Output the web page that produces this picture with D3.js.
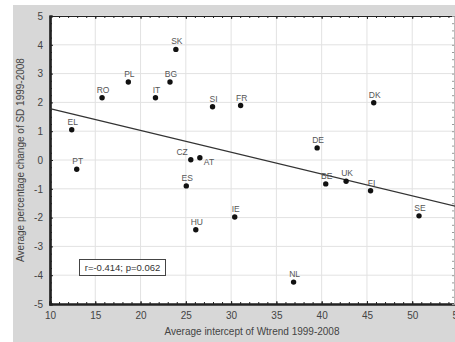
<!DOCTYPE html>
<html>
<head>
    <meta charset="utf-8">
    <title>Wtrend intercept vs SD change</title>
    <script src="https://cdn.jsdelivr.net/npm/d3@7"></script>
    <style>
        body { margin: 0; background: #fff; }
        svg text { font-family: "Liberation Sans", Arial, sans-serif; }
    </style>
</head>
<body>
    <div id="chart"></div>

    <script type="text/javascript">
        // country codes and their values
        var countries = ["SK", "PL", "BG", "RO", "IT", "SI", "EL", "CZ", "AT", "PT", "FR", "DK", "DE", "ES", "HU", "BE", "UK", "FI", "SE", "IE", "NL"];
        var intercepts = [23.9, 18.65, 23.25, 15.75, 21.65, 27.95, 12.4, 25.55, 26.55, 12.95, 31.05, 45.75, 39.5, 25.05, 26.1, 40.45, 42.7, 45.4, 50.75, 30.4, 36.9];
        var sdChange = [3.84, 2.71, 2.71, 2.16, 2.16, 1.85, 1.05, 0.01, 0.08, -0.32, 1.89, 1.99, 0.42, -0.9, -2.42, -0.83, -0.74, -1.07, -1.94, -1.98, -4.24];

        // fitted line end points
        var fitX = [10, 55];
        var fitY = [1.78, -1.62];

        var xTicks = [10, 15, 20, 25, 30, 35, 40, 45, 50, 55];
        var yTicks = [-5, -4, -3, -2, -1, 0, 1, 2, 3, 4, 5];
        var statText = "r=-0.414; p=0.062";
        var xTitle = "Average intercept of Wtrend 1999-2008";
        var yTitle = "Average percentage change of SD 1999-2008";

        var W = 455, H = 342;
        var svg = d3.select("#chart").append("svg")
            .attr("width", W).attr("height", H);

        // grey outer panel
        svg.append("rect")
            .attr("x", 13).attr("y", 5)
            .attr("width", W - 13).attr("height", H - 5)
            .attr("fill", "#d7d7d7");

        var x = d3.scaleLinear().domain([10, 55]).range([50, 457.5]);
        var y = d3.scaleLinear().domain([-5, 5]).range([304, 16]);

        svg.append("rect")
            .attr("x", x(10)).attr("y", y(5))
            .attr("width", x(55) - x(10)).attr("height", y(-5) - y(5))
            .attr("fill", "#fff");

        // grid
        var grid = svg.append("g");
        grid.selectAll("line.gx").data(xTicks).enter().append("line")
            .attr("class", "gx")
            .attr("x1", x).attr("x2", x)
            .attr("y1", y(5)).attr("y2", y(-5))
            .attr("stroke", "#e2e2e2").attr("stroke-width", 1);
        grid.selectAll("line.gy").data(yTicks).enter().append("line")
            .attr("class", "gy")
            .attr("y1", y).attr("y2", y)
            .attr("x1", x(10)).attr("x2", x(55))
            .attr("stroke", "#e2e2e2").attr("stroke-width", 1);

        // axes, ticks pointing into the plot
        var fmt = function(d) { return String(d); };
        var xMinor = d3.range(10, 55.01, 1);
        var yMinor = d3.range(-5, 5.01, 0.25);

        var axBottom = svg.append("g").attr("transform", "translate(0," + y(-5) + ")");
        axBottom.append("g").call(d3.axisBottom(x).tickValues(xMinor).tickSize(-2).tickFormat(""));
        axBottom.append("g").call(d3.axisBottom(x).tickValues(xTicks).tickSize(-3).tickPadding(8).tickFormat(fmt));

        var axTop = svg.append("g").attr("transform", "translate(0," + y(5) + ")");
        axTop.append("g").call(d3.axisTop(x).tickValues(xMinor).tickSize(-2).tickFormat(""));
        axTop.append("g").call(d3.axisTop(x).tickValues(xTicks).tickSize(-3).tickFormat(""));

        var axLeft = svg.append("g").attr("transform", "translate(" + x(10) + ",0)");
        axLeft.append("g").call(d3.axisLeft(y).tickValues(yMinor).tickSize(-2).tickFormat(""));
        axLeft.append("g").call(d3.axisLeft(y).tickValues(yTicks).tickSize(-3).tickPadding(7).tickFormat(fmt));

        var axRight = svg.append("g").attr("transform", "translate(454,0)");
        axRight.append("g").call(d3.axisRight(y).tickValues(yMinor).tickSize(-2).tickFormat(""));

        svg.selectAll(".domain").attr("stroke", "#222");
        svg.selectAll(".tick line").attr("stroke", "#222");
        axBottom.selectAll(".domain").attr("stroke-width", 2.2);
        axLeft.selectAll(".domain").attr("stroke-width", 2.2);
        axTop.selectAll(".domain").attr("stroke-width", 1.2);
        axRight.selectAll(".domain").attr("stroke", "#bbb");
        axRight.selectAll(".tick line").attr("stroke", "#999");
        svg.selectAll(".tick text")
            .attr("fill", "#444")
            .style("font-size", "10px")
            .style("font-family", "Liberation Sans, Arial, sans-serif");

        // regression line
        svg.append("line")
            .attr("x1", x(fitX[0])).attr("y1", y(fitY[0]))
            .attr("x2", x(fitX[1])).attr("y2", y(fitY[1]))
            .attr("stroke", "#333").attr("stroke-width", 1.3);

        // points and labels
        var pts = countries.map(function(c, i) {
            return { name: c, x: intercepts[i], y: sdChange[i] };
        });

        svg.append("g").selectAll("circle").data(pts).enter().append("circle")
            .attr("cx", function(d) { return x(d.x); })
            .attr("cy", function(d) { return y(d.y); })
            .attr("r", 2.7)
            .attr("fill", "#111");

        svg.append("g").selectAll("text").data(pts).enter().append("text")
            .attr("x", function(d) {
                if (d.name == "AT") return x(d.x) + 4;
                if (d.name == "CZ") return x(d.x) - 3;
                return x(d.x) + 1;
            })
            .attr("y", function(d) {
                if (d.name == "AT") return y(d.y) + 7;
                return y(d.y) - 5;
            })
            .attr("text-anchor", function(d) {
                if (d.name == "AT") return "start";
                if (d.name == "CZ") return "end";
                return "middle";
            })
            .attr("fill", "#555")
            .style("font-size", "8.5px")
            .text(function(d) { return d.name; });

        // stats box
        var box = svg.append("g");
        box.append("rect")
            .attr("x", 79.5).attr("y", 259.5)
            .attr("width", 86).attr("height", 16)
            .attr("fill", "#fff").attr("stroke", "#444").attr("stroke-width", 1);
        box.append("text")
            .attr("x", 122.5).attr("y", 271)
            .attr("text-anchor", "middle")
            .attr("fill", "#333")
            .style("font-size", "9.5px")
            .text(statText);

        // axis titles
        svg.append("text")
            .attr("x", 252).attr("y", 335)
            .attr("text-anchor", "middle")
            .attr("fill", "#444")
            .style("font-size", "10px")
            .text(xTitle);

        svg.append("text")
            .attr("transform", "translate(24," + y(0) + ") rotate(-90)")
            .attr("text-anchor", "middle")
            .attr("fill", "#444")
            .style("font-size", "10px")
            .text(yTitle);
    </script>
</body>
</html>
